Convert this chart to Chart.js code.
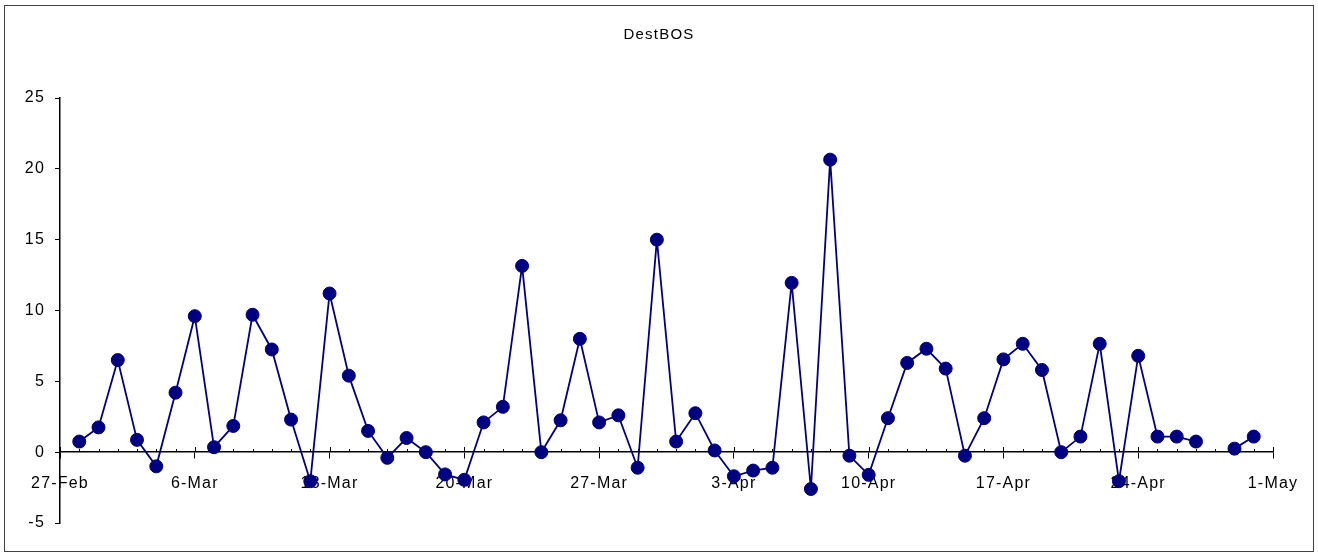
<!DOCTYPE html>
<html>
<head>
<meta charset="utf-8">
<script src="https://cdn.jsdelivr.net/npm/chart.js@4/dist/chart.umd.min.js"></script>
<style>
  html, body { margin: 0; padding: 0; background: #fff; }
  canvas { display: block; }
</style>
</head>
<body>
<canvas id="myChart" width="1318" height="552"></canvas>
<script>
// daily readings, 28-Apr has no value
const dates = [
  "2005-02-28", "2005-03-01", "2005-03-02", "2005-03-03", "2005-03-04", "2005-03-05", "2005-03-06",
  "2005-03-07", "2005-03-08", "2005-03-09", "2005-03-10", "2005-03-11", "2005-03-12", "2005-03-13",
  "2005-03-14", "2005-03-15", "2005-03-16", "2005-03-17", "2005-03-18", "2005-03-19", "2005-03-20",
  "2005-03-21", "2005-03-22", "2005-03-23", "2005-03-24", "2005-03-25", "2005-03-26", "2005-03-27",
  "2005-03-28", "2005-03-29", "2005-03-30", "2005-03-31", "2005-04-01", "2005-04-02", "2005-04-03",
  "2005-04-04", "2005-04-05", "2005-04-06", "2005-04-07", "2005-04-08", "2005-04-09", "2005-04-10",
  "2005-04-11", "2005-04-12", "2005-04-13", "2005-04-14", "2005-04-15", "2005-04-16", "2005-04-17",
  "2005-04-18", "2005-04-19", "2005-04-20", "2005-04-21", "2005-04-22", "2005-04-23", "2005-04-24",
  "2005-04-25", "2005-04-26", "2005-04-27", "2005-04-28", "2005-04-29", "2005-04-30",
];
const destBOS = [
  0.75, 1.75, 6.5, 0.87, -1.0, 4.2, 9.6,
  0.35, 1.85, 9.7, 7.25, 2.3, -2.05, 11.2,
  5.4, 1.5, -0.4, 1.0, 0.0, -1.57, -1.95,
  2.1, 3.2, 13.15, 0.0, 2.25, 8.0, 2.1,
  2.6, -1.1, 15.0, 0.75, 2.75, 0.12, -1.7,
  -1.3, -1.1, 11.95, -2.6, 20.65, -0.25, -1.6,
  2.4, 6.3, 7.3, 5.9, -0.25, 2.4, 6.55,
  7.65, 5.8, 0.0, 1.1, 7.65, -2.05, 6.8,
  1.1, 1.1, 0.75, null, 0.25, 1.1,
];
const xTickLabels = ["27-Feb", "6-Mar", "13-Mar", "20-Mar", "27-Mar", "3-Apr", "10-Apr", "17-Apr", "24-Apr", "1-May"];
const yTicks = [-5, 0, 5, 10, 15, 20, 25];

const startDay = Date.UTC(2005, 1, 27);
const dayNo = d => Math.round((Date.parse(d + "T00:00:00Z") - startDay) / 86400000);

const points = dates.map((d, i) => ({ x: dayNo(d), y: destBOS[i] }));
const navy = "#000080";
const family = "'Liberation Sans', Arial, sans-serif";
const font = { family: family, size: 16 };

// outer frame, spaced lettering, and the tick marks that point up from the date axis
const frame = {
  id: "frame",
  beforeDraw(chart) {
    const ctx = chart.ctx;
    ctx.letterSpacing = "1.2px";
    ctx.save();
    ctx.strokeStyle = "#404040";
    ctx.lineWidth = 1;
    ctx.strokeRect(4.5, 5.5, chart.width - 9, chart.height - 6);
    ctx.restore();
  },
  beforeDatasetsDraw(chart) {
    const ctx = chart.ctx;
    const xs = chart.scales.x;
    const y0 = Math.round(chart.scales.y.getPixelForValue(0));
    ctx.save();
    ctx.strokeStyle = "#000";
    ctx.lineWidth = 1;
    ctx.beginPath();
    xs.ticks.forEach(t => {
      const px = Math.round(xs.getPixelForValue(t.value)) + 0.5;
      const up = t.value % 7 === 0 ? 5 : 3;
      ctx.moveTo(px, y0);
      ctx.lineTo(px, y0 - up);
    });
    ctx.stroke();
    ctx.restore();
  },
};

const config = {
  type: "line",
  data: {
    datasets: [{
      label: "DestBOS",
      data: points,
      borderColor: navy,
      backgroundColor: navy,
      borderWidth: 1.8,
      pointRadius: 6.5,
      pointHoverRadius: 6.5,
      pointBorderWidth: 1,
      pointBorderColor: navy,
      tension: 0,
      spanGaps: false,
    }],
  },
  options: {
    responsive: false,
    animation: false,
    events: [],
    layout: { padding: { left: 0, right: 0, top: 0, bottom: 29 } },
    plugins: {
      legend: { display: false },
      tooltip: { enabled: false },
      title: {
        display: true,
        text: "DestBOS",
        color: "#000",
        font: { family: family, size: 15, weight: "normal" },
        padding: { top: 26, bottom: 54 },
      },
    },
    scales: {
      x: {
        type: "linear",
        position: { y: 0 },
        min: 0,
        max: 63,
        afterBuildTicks: s => { s.ticks = Array.from({ length: 64 }, (_, i) => ({ value: i })); },
        grid: {
          drawOnChartArea: false,
          tickLength: 6,
          tickColor: c => (c.tick && c.tick.value % 7 === 0 ? "#000" : "rgba(0,0,0,0)"),
        },
        border: { color: "#000", width: 1.5 },
        ticks: {
          autoSkip: false,
          maxRotation: 0,
          color: "#000",
          font: font,
          padding: 16,
          callback: v => (v % 7 === 0 ? xTickLabels[v / 7] : ""),
        },
      },
      y: {
        min: -5,
        max: 25,
        afterBuildTicks: s => { s.ticks = yTicks.map(v => ({ value: v })); },
        afterFit: s => { s.width = 60; },
        grid: {
          drawOnChartArea: false,
          tickLength: 5,
          tickColor: "#000",
        },
        border: { color: "#000", width: 1.5 },
        ticks: { color: "#000", font: font, padding: 10 },
      },
      // empty right-hand box that leaves the margin after 1-May
      yPad: {
        position: "right",
        min: -5,
        max: 25,
        afterFit: s => { s.width = 45; },
        grid: { display: false },
        border: { display: false },
        ticks: { display: false },
      },
    },
  },
  plugins: [frame],
};

const myChart = new Chart(document.getElementById("myChart"), config);
</script>
</body>
</html>
